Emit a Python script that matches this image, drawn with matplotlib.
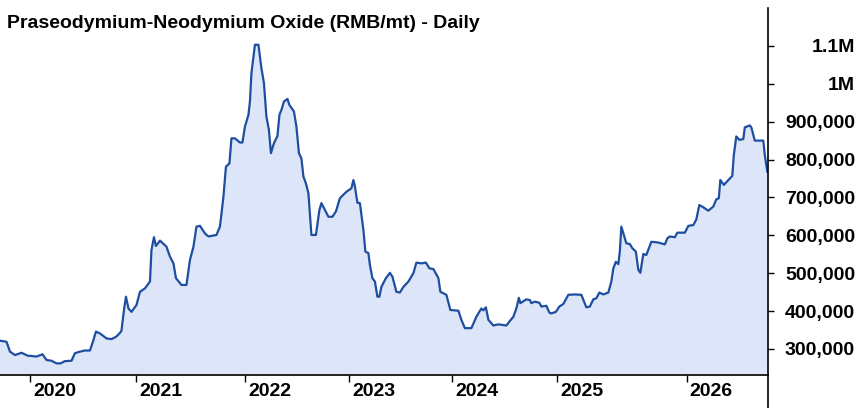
import numpy as np
import matplotlib
matplotlib.use('Agg')
import matplotlib.pyplot as plt
from matplotlib.lines import Line2D
from matplotlib.ticker import FuncFormatter
import matplotlib.transforms as mtransforms

# trading-session index and price (RMB/mt)
session = [0, 13, 20, 30, 43, 56, 60, 73, 85, 93, 103, 113, 121, 130, 143, 150, 160, 170, 180, 187,
           192, 200, 213, 223, 232, 239, 243, 248, 252, 257, 263, 273, 280, 290, 300, 303, 308, 312, 320, 333,
           340, 347, 352, 363, 373, 380, 387, 393, 400, 410, 417, 433, 440, 447, 452, 459, 463, 470, 480, 485,
           490, 497, 500, 503, 510, 517, 523, 528, 533, 538, 542, 548, 555, 559, 563, 568, 575, 579, 588, 593,
           598, 603, 607, 612, 617, 623, 632, 639, 643, 650, 657, 665, 672, 680, 693, 703, 707, 710, 715, 720,
           727, 731, 737, 740, 745, 750, 755, 759, 763, 772, 780, 785, 793, 800, 807, 817, 827, 833, 843, 852,
           859, 867, 877, 881, 893, 901, 917, 923, 930, 943, 953, 963, 967, 972, 977, 987, 997, 1013, 1020, 1027,
           1033, 1038, 1041, 1053, 1060, 1063, 1070, 1079, 1083, 1093, 1099, 1103, 1112, 1119, 1127, 1137, 1150, 1163, 1173, 1180,
           1187, 1193, 1199, 1207, 1217, 1223, 1227, 1232, 1237, 1240, 1243, 1247, 1253, 1260, 1265, 1272, 1277, 1281, 1287, 1293,
           1303, 1317, 1330, 1335, 1340, 1350, 1355, 1370, 1377, 1387, 1393, 1399, 1407, 1417, 1427, 1433, 1438, 1441, 1448, 1465,
           1468, 1473, 1479, 1487, 1490, 1500, 1503, 1510, 1527, 1530, 1535]
price = [322000, 319000, 293000, 284000, 290000, 282000, 282000, 280000, 286000, 271000,
         269000, 262000, 262000, 268000, 269000, 289000, 293000, 296000, 296000, 324000,
         346000, 341000, 328000, 326000, 332000, 341000, 348000, 403000, 438000, 407000,
         398000, 416000, 451000, 460000, 478000, 561000, 595000, 572000, 586000, 570000,
         544000, 526000, 487000, 469000, 469000, 535000, 570000, 623000, 625000, 605000,
         597000, 601000, 623000, 702000, 781000, 790000, 856000, 856000, 845000, 845000,
         887000, 918000, 953000, 1028000, 1103000, 1103000, 1041000, 1002000, 913000, 878000,
         817000, 843000, 862000, 918000, 931000, 953000, 960000, 944000, 927000, 887000,
         817000, 803000, 755000, 737000, 711000, 601000, 601000, 667000, 685000, 667000,
         649000, 649000, 663000, 698000, 715000, 724000, 746000, 729000, 686000, 685000,
         614000, 557000, 553000, 522000, 487000, 478000, 438000, 438000, 464000, 487000,
         501000, 491000, 451000, 449000, 464000, 478000, 500000, 528000, 526000, 528000,
         513000, 511000, 487000, 451000, 443000, 403000, 401000, 377000, 355000, 355000,
         385000, 407000, 402000, 410000, 377000, 362000, 365000, 362000, 374000, 385000,
         407000, 435000, 421000, 431000, 429000, 421000, 425000, 422000, 412000, 414000,
         396000, 394000, 398000, 412000, 419000, 443000, 444000, 443000, 410000, 412000,
         431000, 434000, 449000, 444000, 449000, 478000, 513000, 530000, 524000, 557000,
         623000, 605000, 579000, 577000, 566000, 557000, 509000, 501000, 551000, 548000,
         583000, 581000, 576000, 592000, 597000, 595000, 607000, 607000, 625000, 627000,
         642000, 680000, 674000, 665000, 676000, 695000, 698000, 746000, 733000, 757000,
         812000, 861000, 852000, 854000, 885000, 890000, 885000, 850000, 850000, 812000,
         768000]

year_ticks = [61, 272, 491, 699, 904, 1115, 1374]
year_labels = ['2020', '2021', '2022', '2023', '2024', '2025', '2026']
price_ticks = [300000, 400000, 500000, 600000, 700000, 800000, 900000, 1000000, 1100000]

line_color = '#1f4ea1'
fill_color = '#dce6f8'

plt.rcParams['font.family'] = ['Liberation Sans', 'DejaVu Sans']

fig = plt.figure(figsize=(8.6, 4.08), dpi=100)
ax = fig.add_axes([0, 33 / 408, 768.3 / 860, 367 / 408])

ax.fill_between(session, price, 0, color=fill_color, lw=0)
ax.plot(session, price, color=line_color, lw=1.6)

ax.set_xlim(0, 1537)
ax.set_ylim(231350, 1200000)

for side in ['top', 'left']:
    ax.spines[side].set_visible(False)
ax.spines['right'].set_linewidth(1.2)
ax.spines['bottom'].set_linewidth(1.2)

# price axis on the right
ax.yaxis.tick_right()
ax.set_yticks(price_ticks)


def price_fmt(v, pos):
    if v >= 1000000:
        return '{:g}M'.format(v / 1000000)
    return '{:,.0f}'.format(v)


ax.yaxis.set_major_formatter(FuncFormatter(price_fmt))
ax.tick_params(axis='y', direction='out', length=4, width=1, pad=58.5, labelsize=14)
for lab in ax.get_yticklabels():
    lab.set_fontweight('bold')
    lab.set_horizontalalignment('right')

# year axis, labels sit just right of each tick
ax.set_xticks(year_ticks)
ax.set_xticklabels(year_labels)
ax.tick_params(axis='x', direction='out', length=5, width=1, pad=1, labelsize=14)
offset = mtransforms.ScaledTranslation(3 / 100, 0, fig.dpi_scale_trans)
for lab in ax.get_xticklabels():
    lab.set_fontweight('bold')
    lab.set_horizontalalignment('left')
    lab.set_transform(lab.get_transform() + offset)

# right axis line runs on down to the bottom edge
fig.add_artist(Line2D([768.3 / 860, 768.3 / 860], [0, 33 / 408], color='black', lw=1.2))

fig.text(7 / 860, 1 - 24 / 408, 'Praseodymium-Neodymium Oxide (RMB/mt) - Daily',
         fontsize=14, fontweight='bold', va='center', ha='left')

fig.savefig('out.png', dpi=100)
